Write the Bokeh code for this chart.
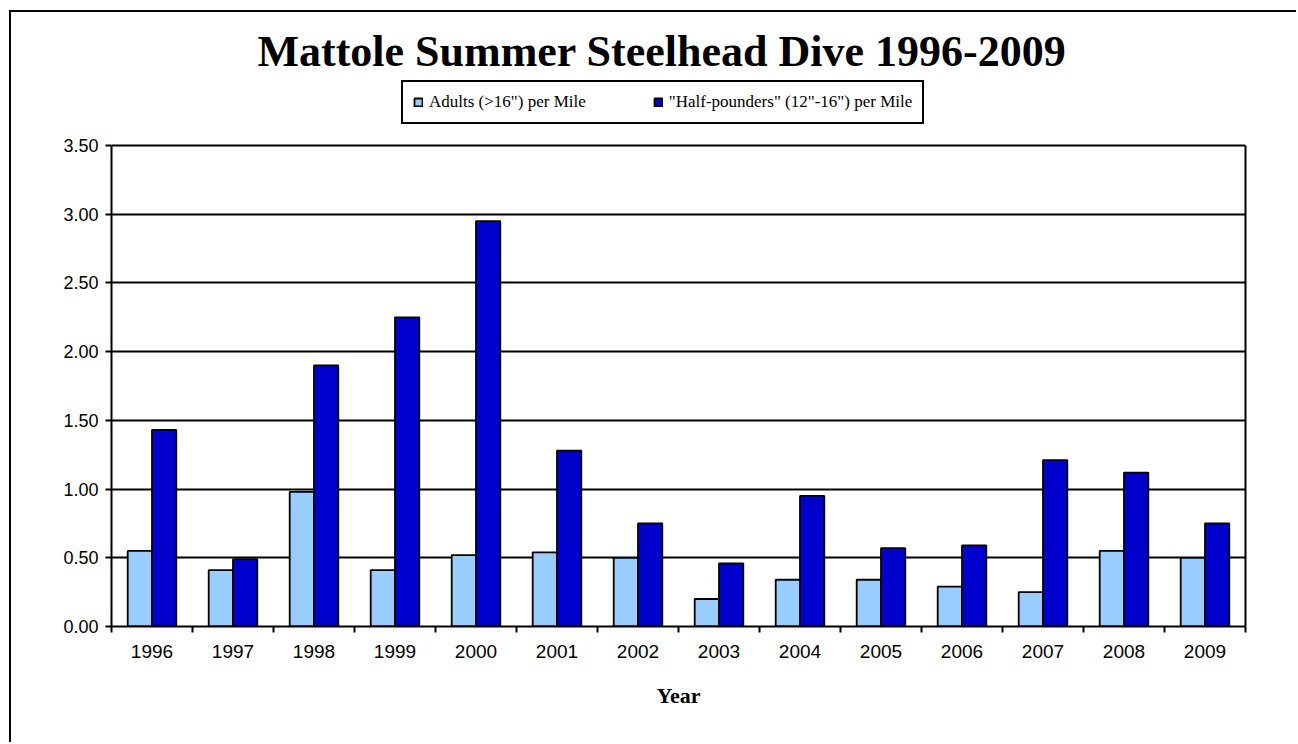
from bokeh.plotting import figure
from bokeh.models import (ColumnDataSource, Legend, LegendItem, FixedTicker,
                          NumeralTickFormatter, Range1d, Title, LinearAxis)
from bokeh.transform import dodge
from bokeh.embed import file_html
from bokeh.resources import INLINE

years = ["1996", "1997", "1998", "1999", "2000", "2001", "2002",
         "2003", "2004", "2005", "2006", "2007", "2008", "2009"]
adults = [0.55, 0.41, 0.98, 0.41, 0.52, 0.54, 0.50,
          0.20, 0.34, 0.34, 0.29, 0.25, 0.55, 0.50]
half_pounders = [1.43, 0.49, 1.90, 2.25, 2.95, 1.28, 0.75,
                 0.46, 0.95, 0.57, 0.59, 1.21, 1.12, 0.75]
y_ticks = [0.0, 0.5, 1.0, 1.5, 2.0, 2.5, 3.0, 3.5]
y_max = 3.5

# frame extends above the value area to hold the legend box
FRAME_H = 546
AREA_H = 481
y_end = y_max * FRAME_H / AREA_H

centers = [i + 0.5 for i in range(len(years))]
src = ColumnDataSource(dict(x=centers, adults=adults, half=half_pounders, year=years))

p = figure(width=1287, height=732, output_backend="svg", toolbar_location=None,
           x_range=Range1d(0, len(years)), y_range=Range1d(0, y_end),
           min_border_left=100, min_border_right=53,
           min_border_top=68, min_border_bottom=118,
           background_fill_color="white", border_fill_color="white")
p.margin = (10, 0, 0, 9)
p.styles = {"border-left": "2px solid black", "border-top": "2px solid black"}

p.title = Title(text="Mattole Summer Steelhead Dive 1996-2009", align="left", offset=146,
                standoff=9,
                text_font="Liberation Serif", text_font_size="44px",
                text_font_style="bold", text_color="black")

r1 = p.vbar(x=dodge("x", -0.15, range=p.x_range), top="adults", width=0.3, source=src,
            fill_color="#99CCFF", line_color="black", line_width=1.8)
r2 = p.vbar(x=dodge("x", 0.15, range=p.x_range), top="half", width=0.3, source=src,
            fill_color="#0000CC", line_color="black", line_width=1.8)

# grid
p.xgrid.visible = False
p.ygrid.ticker = FixedTicker(ticks=y_ticks)
p.ygrid.grid_line_color = "black"
p.ygrid.grid_line_width = 1.8
p.outline_line_color = None

# y axis
p.yaxis.bounds = (0, y_max)
p.yaxis.ticker = FixedTicker(ticks=y_ticks)
p.yaxis.formatter = NumeralTickFormatter(format="0.00")
p.yaxis.major_tick_out = 6
p.yaxis.major_tick_in = 0
p.yaxis.minor_tick_line_color = None
p.yaxis.major_label_standoff = 7
p.yaxis.major_label_text_font = "Liberation Sans"
p.yaxis.major_label_text_font_size = "18px"
p.yaxis.major_label_text_color = "black"
p.yaxis.axis_line_color = "black"
p.yaxis.axis_line_width = 2
p.yaxis.major_tick_line_width = 2

# right border of the value area
right_axis = LinearAxis(bounds=(0, y_max), ticker=FixedTicker(ticks=[]),
                        axis_line_color="black", axis_line_width=2,
                        major_tick_line_color=None, minor_tick_line_color=None)
p.add_layout(right_axis, "right")

# x axis: labels at centres, ticks at boundaries
p.xaxis.ticker = FixedTicker(ticks=centers, minor_ticks=list(range(len(years) + 1)))
p.xaxis.major_label_overrides = {c: y for c, y in zip(centers, years)}
p.xaxis.major_tick_line_color = None
p.xaxis.major_tick_out = 0
p.xaxis.major_tick_in = 0
p.xaxis.minor_tick_out = 6
p.xaxis.minor_tick_in = 0
p.xaxis.minor_tick_line_color = "black"
p.xaxis.minor_tick_line_width = 2
p.xaxis.major_label_standoff = 12
p.xaxis.major_label_text_font = "Liberation Sans"
p.xaxis.major_label_text_font_size = "19px"
p.xaxis.major_label_text_color = "black"
p.xaxis.axis_line_color = "black"
p.xaxis.axis_line_width = 2
p.xaxis.axis_label = "Year"
p.xaxis.axis_label_text_font = "Liberation Serif"
p.xaxis.axis_label_text_font_style = "bold"
p.xaxis.axis_label_text_font_size = "22px"
p.xaxis.axis_label_text_color = "black"
p.xaxis.axis_label_standoff = 22

legend = Legend(items=[LegendItem(label='Adults (>16") per Mile', renderers=[r1]),
                       LegendItem(label='"Half-pounders" (12"-16") per Mile', renderers=[r2])],
                orientation="horizontal", location=(290, FRAME_H - 44),
                border_line_color="black", border_line_width=2, border_line_alpha=1,
                background_fill_color="white", background_fill_alpha=1,
                label_text_font="Liberation Serif", label_text_font_size="17px",
                label_text_color="black", glyph_width=10, glyph_height=10,
                label_standoff=6, spacing=67, padding=10, margin=0)
p.add_layout(legend, "center")

open("out.html", "w").write(file_html(p, INLINE))
